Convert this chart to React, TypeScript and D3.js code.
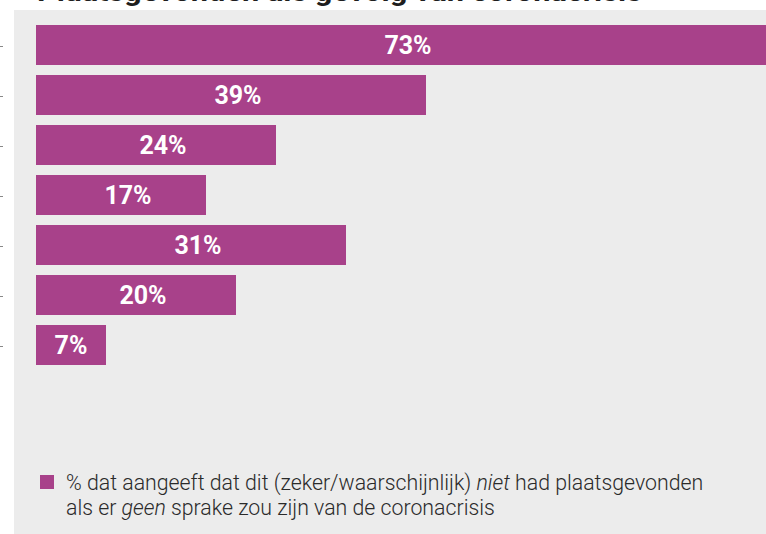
import React from "react";
import * as d3 from "d3";

const categories = ["Item 1", "Item 2", "Item 3", "Item 4", "Item 5", "Item 6", "Item 7"];
const values = [73, 39, 24, 17, 31, 20, 7];
const titleText = "Plaatsgevonden als gevolg van coronacrisis";
const legendLine1 = ["% dat aangeeft dat dit (zeker/waarschijnlijk) ", "niet", " had plaatsgevonden"];
const legendLine2 = ["als er ", "geen", " sprake zou zijn van de coronacrisis"];

const W = 766;
const H = 534;
const BAR = "#a8418a";
const BG = "#ececec";

export default function App() {
  const x = d3.scaleLinear().domain([0, 73]).range([36, 766]);
  const y = d3
    .scaleBand<number>()
    .domain(categories.map((_, i) => i))
    .range([20, 370])
    .paddingInner(0.2)
    .paddingOuter(0.1);

  const font = "Roboto, 'Noto Sans', Arial, sans-serif";

  return (
    <svg
      width={W}
      height={H}
      style={{ position: "absolute", left: 0, top: 0, display: "block", background: "#fff" }}
    >
      <rect x={14} y={10} width={W - 14} height={H - 10} fill={BG} />
      <text
        x={37}
        y={0.5}
        fontFamily={font}
        fontWeight={700}
        fontSize={26}
        fill="#1e1e1e"
        textLength={605}
        lengthAdjust="spacingAndGlyphs"
      >
        {titleText}
      </text>
      {categories.map((c, i) => {
        const cy = (y(i) as number) + y.bandwidth() / 2;
        return (
          <line key={"t" + c} x1={0} x2={3} y1={cy + 1.5} y2={cy + 1.5} stroke="#888" strokeWidth={1} />
        );
      })}
      {values.map((v, i) => {
        const top = y(i) as number;
        const x0 = x(0);
        const x1 = x(v);
        return (
          <g key={categories[i]}>
            <rect x={x0} y={top} width={x1 - x0} height={y.bandwidth()} fill={BAR} />
            <text
              x={(x0 + x1) / 2 + (v > 10 ? 7 : 0)}
              y={top + y.bandwidth() / 2 + 9}
              textAnchor="middle"
              fontFamily={font}
              fontWeight={700}
              fontSize={25}
              fill="#fff"
            >
              {v}%
            </text>
          </g>
        );
      })}
      <rect x={40} y={475} width={14} height={14} fill={BAR} />
      <text x={66} y={490} fontFamily={font} fontWeight={300} fontSize={21.3} fill="#2a2a2a">
        <tspan>{legendLine1[0]}</tspan>
        <tspan fontStyle="italic">{legendLine1[1]}</tspan>
        <tspan>{legendLine1[2]}</tspan>
      </text>
      <text x={66} y={515} fontFamily={font} fontWeight={300} fontSize={21.3} fill="#2a2a2a">
        <tspan>{legendLine2[0]}</tspan>
        <tspan fontStyle="italic">{legendLine2[1]}</tspan>
        <tspan>{legendLine2[2]}</tspan>
      </text>
    </svg>
  );
}
